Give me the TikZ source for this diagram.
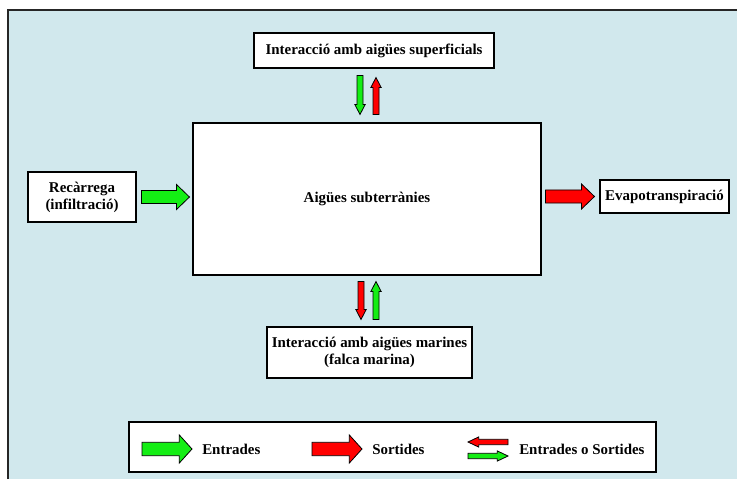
\documentclass[tikz,border=0pt]{standalone}
\usepackage{fontspec}
\setmainfont{Liberation Serif}
\usetikzlibrary{calc,shadows}
\definecolor{fonsblau}{RGB}{209,232,237}
\definecolor{verd}{RGB}{20,238,20}
\definecolor{vermell}{RGB}{255,0,0}
% #1 colour, #2 from, #3 to, #4 half shaft, #5 half head, #6 head length
\newcommand{\blockarr}[6]{%
  \coordinate (ba-h) at ($(#3)!#6!(#2)$);
  \filldraw[fill=#1, draw=black, line width=0.6pt, line join=miter]
    ($(#2)!#4!90:(#3)$) -- ($(ba-h)!#4!90:(#3)$) -- ($(ba-h)!#5!90:(#3)$) -- (#3)
    -- ($(ba-h)!#5!-90:(#3)$) -- ($(ba-h)!#4!-90:(#3)$) -- ($(#2)!#4!-90:(#3)$) -- cycle;}
\begin{document}
\begin{tikzpicture}[x=0.75pt, y=-0.75pt,
				font=\fontsize{11.2}{12.8}\selectfont\bfseries,
				caixa/.style={draw=black, line width=0.8pt, fill=white, align=center, inner sep=2pt,
					drop shadow={shadow xshift=0.9pt, shadow yshift=-0.9pt, fill=black!45, opacity=1}},
				llegenda/.style={anchor=west, inner sep=0pt}]
				\useasboundingbox (0,0) rectangle (737,479);
				\fill[fonsblau] (8,10) rectangle (737,479);
				\draw[line width=1.1pt, black!85] (8,479) -- (8,10) -- (737,10);

				\node[caixa, minimum width=261pt, minimum height=114pt] (aig) at (367,199) {Aigües subterrànies};
				\node[caixa, minimum width=180pt, minimum height=26.25pt] (sup) at (374,50.5) {Interacció amb aigües superficials};
				\node[caixa, minimum width=81pt, minimum height=37.5pt] (rec) at (82,197) {Recàrrega\\(infiltració)};
				\node[caixa, minimum width=96.75pt, minimum height=24.75pt] (evap) at (664.5,196.5) {Evapotranspiració};
				\node[caixa, minimum width=153.75pt, minimum height=38.25pt] (mar) at (369.5,352.5) {Interacció amb aigües marines\\(falca marina)};

				\blockarr{verd}{$(rec.east)+(5,0)$}{$(aig.west |- rec.east)+(-3,0)$}{4.9pt}{9.4pt}{9.75pt}
				\blockarr{vermell}{$(aig.east |- evap.west)+(4,0)$}{$(evap.west)+(-5,0)$}{4.9pt}{9.4pt}{9.75pt}

				\blockarr{verd}{$(sup.south)+(-14,7)$}{$(aig.north)+(-7,-8)$}{2.25pt}{3.9pt}{7.5pt}
				\blockarr{vermell}{$(aig.north)+(9,-8)$}{$(sup.south)+(2,9)$}{2.25pt}{3.9pt}{7.5pt}
				\blockarr{vermell}{$(aig.south)+(-6,6)$}{$(mar.north)+(-8.5,-7)$}{2.25pt}{3.9pt}{7.5pt}
				\blockarr{verd}{$(mar.north)+(6.5,-7)$}{$(aig.south)+(9,6)$}{2.25pt}{3.9pt}{7.5pt}

				\node[caixa, minimum width=395.25pt, minimum height=37.5pt] (lleg) at (392.5,447) {};
				\node[llegenda] (tEnt) at (202,449) {Entrades};
				\node[llegenda] (tSor) at (372,449) {Sortides};
				\node[llegenda] (tEoS) at (519,449) {Entrades o Sortides};
				\blockarr{verd}{$(tEnt.west)+(-60,0)$}{$(tEnt.west)+(-10,0)$}{5pt}{10.5pt}{9.5pt}
				\blockarr{vermell}{$(tSor.west)+(-60,0)$}{$(tSor.west)+(-10,0)$}{5pt}{10.5pt}{9.5pt}
				\blockarr{vermell}{$(tEoS.west)+(-11,-7)$}{$(tEoS.west)+(-51,-7)$}{2pt}{3.8pt}{8pt}
				\blockarr{verd}{$(tEoS.west)+(-51,7)$}{$(tEoS.west)+(-11,7)$}{2pt}{3.8pt}{8pt}
			\end{tikzpicture}
\end{document}
